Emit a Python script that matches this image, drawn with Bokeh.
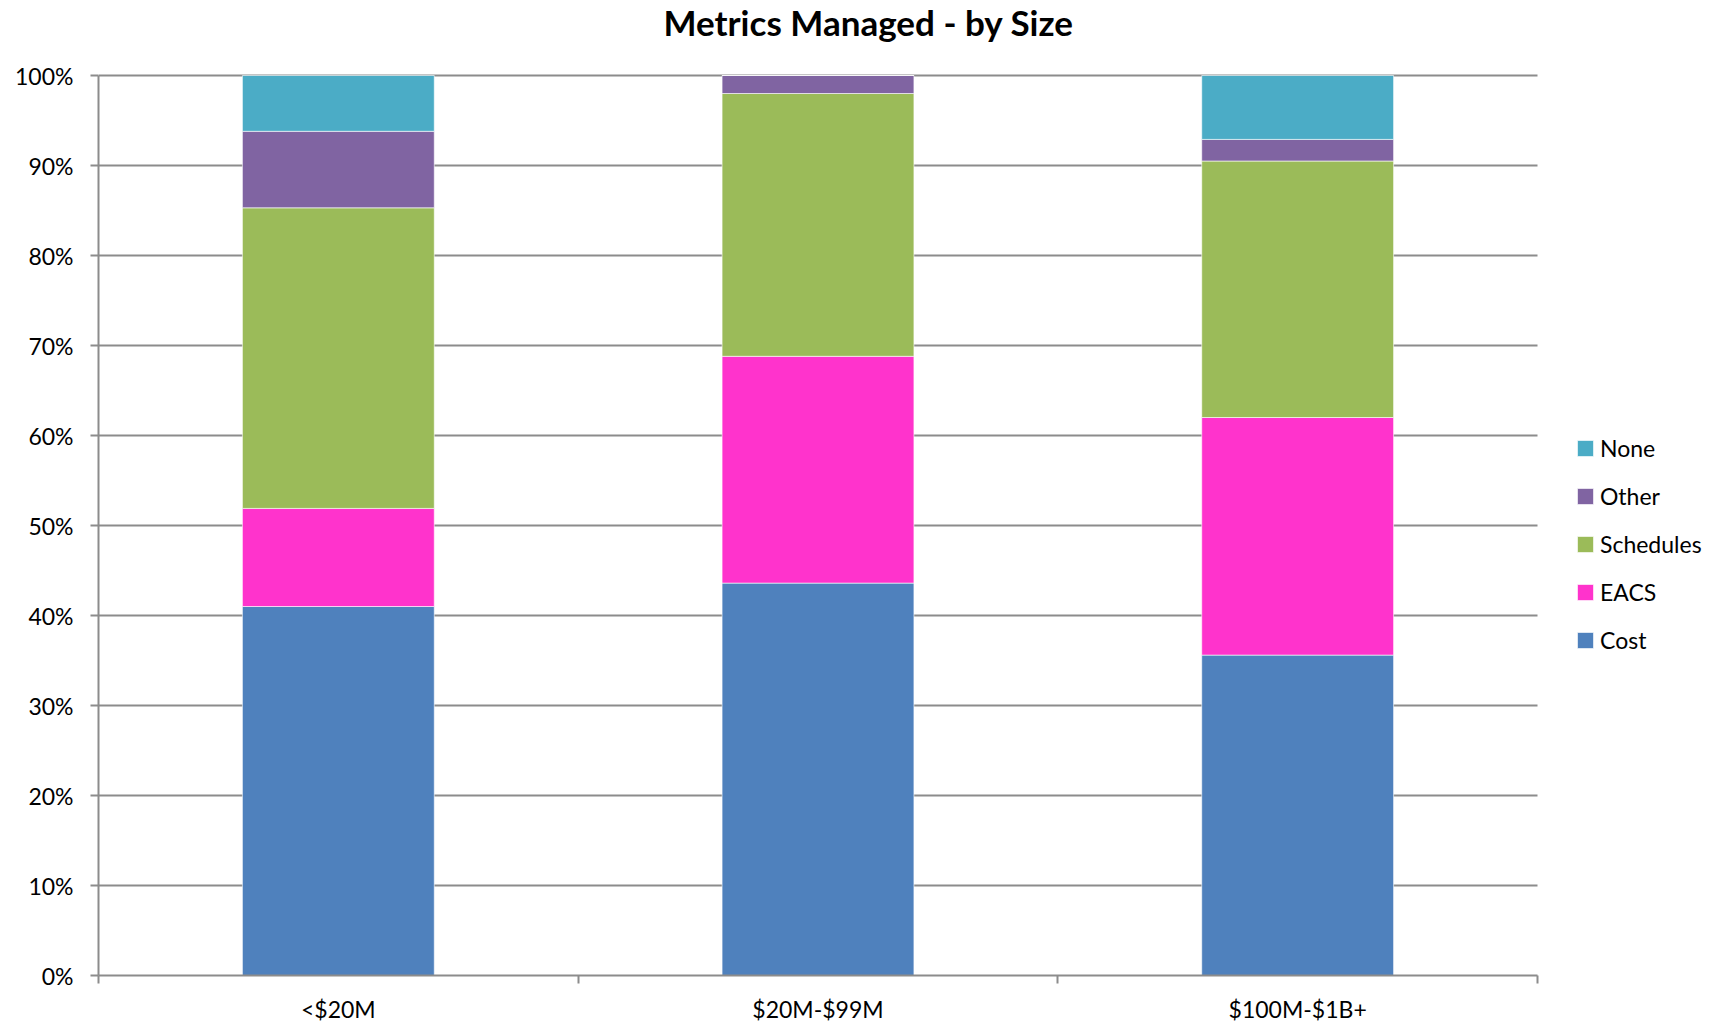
from bokeh.plotting import figure
from bokeh.models import (FixedTicker, NumeralTickFormatter, Legend, LegendItem,
                          Range1d, ColumnDataSource, Grid)
from bokeh.embed import file_html
from bokeh.resources import INLINE

categories = ["<$20M", "$20M-$99M", "$100M-$1B+"]
series = ["Cost", "EACS", "Schedules", "Other", "None"]
cost = [41.0, 43.6, 35.6]
eacs = [10.9, 25.2, 26.4]
schedules = [33.4, 29.2, 28.5]
other = [8.5, 2.0, 2.4]
none = [6.2, 0.0, 7.1]
y_ticks = [0, 0.1, 0.2, 0.3, 0.4, 0.5, 0.6, 0.7, 0.8, 0.9, 1.0]
colors = ["#4F81BD", "#FF33CC", "#9BBB59", "#8064A2", "#4BACC6"]

FONT = "Lato"
GRID = "#8C8C8C"

# layout (pixels)
PLOT_W = 1439      # width of the bar area
PLOT_H = 900       # height of the 0..100% area
FRAME_W = 1618     # frame incl. room for the legend
FRAME_H = 931      # frame incl. a little room above 100%
n = len(categories)
x_end = n * FRAME_W / PLOT_W
y_end = FRAME_H / PLOT_H

xs = [i + 0.5 for i in range(n)]
data = {"x": xs}
for name, vals in zip(series, [cost, eacs, schedules, other, none]):
    data[name] = [v / 100.0 for v in vals]
source = ColumnDataSource(data)

p = figure(frame_width=FRAME_W, frame_height=FRAME_H, output_backend="svg",
           toolbar_location=None,
           x_range=Range1d(0, x_end), y_range=Range1d(0, y_end),
           min_border_left=98, min_border_right=0, min_border_top=0,
           min_border_bottom=49, title="Metrics Managed - by Size")
p.outline_line_color = None
p.background_fill_color = "white"
p.border_fill_color = "white"

p.title.align = "left"
p.title.offset = 565
p.title.vertical_align = "top"
p.title.text_font = FONT
p.title.text_font_size = "35px"
p.title.text_font_style = "bold"
p.title.text_color = "black"
p.title.standoff = 0

renderers = p.vbar_stack(series, x="x", width=0.4, color=colors, source=source,
                         line_color="white", line_width=1, line_alpha=0.6)

# y axis
p.yaxis.ticker = FixedTicker(ticks=y_ticks)
p.yaxis.bounds = (0, 1)
p.yaxis.formatter = NumeralTickFormatter(format="0%")
p.yaxis.axis_line_color = GRID
p.yaxis.axis_line_width = 2
p.yaxis.major_tick_line_color = GRID
p.yaxis.major_tick_line_width = 2
p.yaxis.major_tick_out = 8
p.yaxis.major_tick_in = 0
p.yaxis.minor_tick_line_color = None
p.yaxis.major_label_text_font = FONT
p.yaxis.major_label_text_font_size = "23px"
p.yaxis.major_label_text_color = "black"
p.yaxis.major_label_standoff = 17

# x axis
p.xaxis.ticker = FixedTicker(ticks=xs, minor_ticks=list(range(n + 1)))
p.xaxis.major_label_overrides = {x: c for x, c in zip(xs, categories)}
p.xaxis.bounds = (0, n)
p.xaxis.axis_line_color = GRID
p.xaxis.axis_line_width = 2
p.xaxis.major_tick_line_color = None
p.xaxis.major_tick_out = 0
p.xaxis.major_tick_in = 0
p.xaxis.minor_tick_line_color = GRID
p.xaxis.minor_tick_line_width = 2
p.xaxis.minor_tick_out = 8
p.xaxis.minor_tick_in = 0
p.xaxis.major_label_text_font = FONT
p.xaxis.major_label_text_font_size = "23px"
p.xaxis.major_label_text_color = "black"
p.xaxis.major_label_standoff = 11

p.xgrid.visible = False
if "cross_bounds" in Grid.properties():
    p.ygrid.cross_bounds = (0, n)
    p.ygrid.grid_line_color = GRID
    p.ygrid.grid_line_width = 2
else:
    p.ygrid.visible = False
    g = p.segment(x0=0, x1=n, y0=y_ticks, y1=y_ticks, line_color=GRID, line_width=2)
    g.level = "underlay"

items = [LegendItem(label=s, renderers=[r]) for s, r in zip(series, renderers)][::-1]
legend = Legend(items=items, location=(1477, 321), border_line_color=None,
                background_fill_alpha=0, label_text_font=FONT,
                label_text_font_size="23px", label_text_color="black",
                glyph_width=20, glyph_height=20, label_height=22,
                spacing=20, label_standoff=5, padding=0, margin=0)
p.add_layout(legend, "center")

open("out.html", "w").write(file_html(p, INLINE))
